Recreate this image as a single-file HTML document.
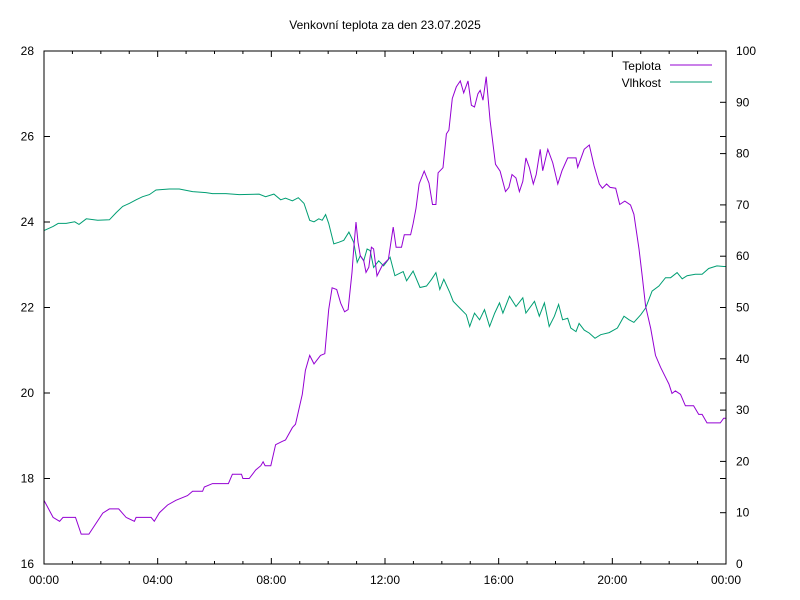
<!DOCTYPE html>
<html><head><meta charset="utf-8"><style>
body{margin:0;background:#fff}
svg{display:block;font-family:"Liberation Sans",sans-serif;font-size:12px}
</style></head><body>
<svg id="chart" width="800" height="600" viewBox="0 0 800 600">
<rect width="800" height="600" fill="#fff"/>
<text x="385" y="29" text-anchor="middle">Venkovní teplota za den 23.07.2025</text>
<g id="ticks"></g>
<g id="series"></g>
<rect x="44" y="51" width="682" height="513" fill="none" stroke="#000" stroke-width="1"/>
<g>
<text x="661" y="70" text-anchor="end">Teplota</text>
<line x1="670" y1="65" x2="712" y2="65" stroke="#9400d3" stroke-width="1"/>
<text x="661" y="87" text-anchor="end">Vlhkost</text>
<line x1="670" y1="82" x2="712" y2="82" stroke="#009e73" stroke-width="1"/>
</g>
</svg>
<script>
const tempTimes=[0,0.32,0.55,0.67,1.11,1.31,1.58,1.78,2.07,2.3,2.63,2.89,3.18,3.24,3.77,3.88,4.06,4.35,4.64,5.05,5.23,5.58,5.64,5.93,6.49,6.63,6.95,7.0,7.22,7.45,7.63,7.71,7.78,7.98,8.15,8.39,8.5,8.74,8.85,9.09,9.2,9.35,9.5,9.73,9.88,10.02,10.14,10.3,10.44,10.58,10.7,10.84,10.9,10.98,11.05,11.13,11.25,11.33,11.43,11.52,11.6,11.72,11.9,12.12,12.29,12.39,12.58,12.68,12.9,12.99,13.09,13.2,13.38,13.55,13.67,13.79,13.87,14.04,14.16,14.25,14.37,14.51,14.65,14.77,14.92,15.04,15.15,15.27,15.35,15.45,15.56,15.7,15.89,16.05,16.24,16.36,16.47,16.61,16.73,16.85,16.96,17.08,17.22,17.32,17.46,17.55,17.73,17.9,18.08,18.23,18.43,18.72,18.78,19.01,19.19,19.36,19.54,19.65,19.8,19.92,20.12,20.26,20.44,20.64,20.76,20.94,21.05,21.17,21.35,21.52,21.7,21.87,21.99,22.1,22.22,22.4,22.57,22.86,23.04,23.16,23.33,23.8,23.92,24];
const tempValues=[17.49,17.09,17.0,17.09,17.09,16.7,16.7,16.9,17.19,17.29,17.29,17.09,17.0,17.09,17.09,17.0,17.2,17.38,17.49,17.6,17.7,17.7,17.8,17.88,17.88,18.1,18.1,18.0,18.0,18.2,18.3,18.39,18.3,18.3,18.79,18.87,18.9,19.19,19.27,19.97,20.53,20.88,20.68,20.88,20.92,21.95,22.46,22.42,22.1,21.9,21.95,22.82,23.37,24.0,23.53,23.21,23.1,22.82,22.94,23.41,23.37,22.74,22.98,23.13,23.88,23.41,23.41,23.7,23.7,23.96,24.32,24.89,25.19,24.91,24.41,24.41,25.15,25.27,26.06,26.15,26.89,27.16,27.3,27.02,27.3,26.73,26.69,27.0,27.08,26.85,27.4,26.37,25.35,25.19,24.71,24.81,25.11,25.03,24.71,24.95,25.5,25.27,24.89,25.11,25.7,25.2,25.7,25.39,24.89,25.2,25.5,25.5,25.28,25.7,25.8,25.31,24.89,24.79,24.89,24.81,24.79,24.41,24.49,24.4,24.18,23.37,22.74,22.03,21.51,20.88,20.6,20.37,20.21,19.99,20.05,19.97,19.7,19.7,19.5,19.5,19.3,19.3,19.41,19.41];
const humTimes=[0,0.32,0.5,0.78,1.08,1.23,1.49,1.89,2.3,2.54,2.77,3.0,3.24,3.47,3.71,3.94,4.41,4.76,5.23,5.7,5.93,6.4,6.87,7.57,7.8,8.09,8.33,8.5,8.74,8.95,9.15,9.35,9.5,9.67,9.79,9.91,10.02,10.2,10.37,10.55,10.73,10.9,11.02,11.13,11.25,11.37,11.48,11.6,11.78,11.95,12.18,12.35,12.64,12.76,12.99,13.23,13.46,13.64,13.79,13.93,14.07,14.28,14.4,14.63,14.86,14.98,15.15,15.33,15.5,15.68,15.86,16.03,16.15,16.38,16.61,16.85,16.96,17.26,17.43,17.61,17.78,17.96,18.11,18.25,18.43,18.54,18.72,18.83,19.01,19.19,19.39,19.59,19.89,20.18,20.41,20.59,20.76,21.0,21.17,21.4,21.64,21.87,22.05,22.28,22.46,22.63,22.92,23.16,23.39,23.68,23.92,24];
const humValues=[65.0,65.8,66.4,66.4,66.7,66.2,67.3,67.0,67.1,68.5,69.7,70.3,71.0,71.6,72.0,72.9,73.1,73.1,72.6,72.4,72.2,72.2,72.0,72.1,71.6,72.1,71.0,71.3,70.8,71.4,70.3,67.0,66.7,67.3,67.0,68.1,66.4,62.4,62.7,63.1,64.7,62.7,58.8,60.1,59.1,61.4,61.1,57.8,59.1,58.1,59.8,56.2,57.0,55.2,57.1,53.9,54.2,55.5,56.8,53.5,55.5,52.9,51.2,49.9,48.6,46.3,48.9,47.6,49.6,46.3,48.9,50.9,48.9,52.2,50.2,51.9,48.9,51.2,48.3,50.9,46.3,48.3,50.6,47.6,47.9,46.0,45.3,46.9,45.6,45.0,44.0,44.7,45.1,46.0,48.3,47.6,47.1,48.6,49.9,53.2,54.2,55.8,55.8,56.8,55.6,56.2,56.5,56.5,57.6,58.1,58.0,58.0];
const xTickLabels=["00:00","04:00","08:00","12:00","16:00","20:00","00:00"];
const yTickLabels=["16","18","20","22","24","26","28"];
const y2TickLabels=["0","10","20","30","40","50","60","70","80","90","100"];

const L=44,R=726,T=51,B=564;
const xs=h=>L+(R-L)*h/24;
const ys=v=>B-(B-T)*(v-16)/12;
const y2s=v=>B-(B-T)*v/100;
const NS="http://www.w3.org/2000/svg";
const tk=document.getElementById('ticks');
function mk(tag,at,parent){const e=document.createElementNS(NS,tag);for(const k in at)e.setAttribute(k,at[k]);parent.appendChild(e);return e;}
for(let h=0;h<=24;h++){
  const x=xs(h),len=(h%4===0)?6:3;
  const a=mk('line',{x1:x,y1:B,x2:x,y2:B-len,stroke:'#000'},tk);
  
  
  const b=mk('line',{x1:x,y1:T,x2:x,y2:T+len,stroke:'#000'},tk);
  
  
}
xTickLabels.forEach((s,i)=>{
  const t=mk('text',{x:xs(i*4),y:B+20,'text-anchor':'middle'},tk);t.textContent=s;
  
  
});
yTickLabels.forEach(s=>{
  const y=ys(+s);
  const a=mk('line',{x1:L,y1:y,x2:L+6,y2:y,stroke:'#000'},tk);
  
  
  const b=mk('line',{x1:R,y1:y,x2:R-6,y2:y,stroke:'#000'},tk);
  
  
  const t=mk('text',{x:L-10,y:y+4,'text-anchor':'end'},tk);t.textContent=s;
  
  
});
y2TickLabels.forEach(s=>{
  const y=y2s(+s);
  const a=mk('line',{x1:R,y1:y,x2:R-6,y2:y,stroke:'#000'},tk);
  
  
  const t=mk('text',{x:R+10,y:y+4,'text-anchor':'start'},tk);t.textContent=s;
  
  
});
const sg=document.getElementById('series');
const hp=mk('polyline',{points:humTimes.map((h,i)=>xs(h).toFixed(1)+','+y2s(humValues[i]).toFixed(1)).join(' '),fill:'none',stroke:'#009e73','stroke-width':1},sg);


const tp=mk('polyline',{points:tempTimes.map((h,i)=>xs(h).toFixed(1)+','+ys(tempValues[i]).toFixed(1)).join(' '),fill:'none',stroke:'#9400d3','stroke-width':1},sg);


</script>
</body></html>
